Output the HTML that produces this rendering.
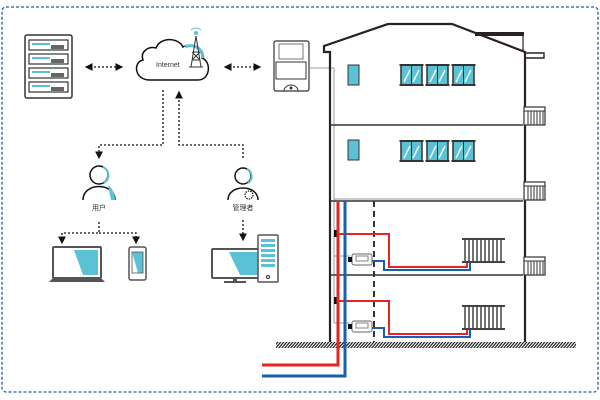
<!DOCTYPE html>
<html><head><meta charset="utf-8"><style>html,body{margin:0;padding:0;background:#fff}svg{display:block}text{font-family:"Liberation Sans","Noto Sans CJK SC",sans-serif}</style></head><body>
<svg width="600" height="400" viewBox="0 0 600 400" xmlns="http://www.w3.org/2000/svg">
<defs>
<pattern id="hatch" width="3" height="6" patternUnits="userSpaceOnUse" patternTransform="skewX(-40)"><rect width="3" height="6" fill="#fff"/><rect width="1.6" height="6" fill="#222"/></pattern>
<marker id="ar" markerWidth="6" markerHeight="6" refX="5" refY="3" orient="auto-start-reverse"><path d="M0,0 L6,3 L0,6z" fill="#111"/></marker>
<g id="win"><rect x="0" y="0" width="21" height="20" fill="#5bc2d6" stroke="#333" stroke-width="1.5"/><line x1="10.5" y1="0" x2="10.5" y2="20" stroke="#333"/><line x1="3" y1="17" x2="9" y2="5" stroke="#fff" stroke-width="1.5"/><line x1="12" y1="17" x2="18" y2="5" stroke="#fff" stroke-width="1.5"/><rect x="-1.5" y="-1" width="24" height="2" fill="#333"/><rect x="-1.5" y="19" width="24" height="2" fill="#333"/></g>
<g id="bal"><rect x="0" y="0" width="21" height="18" fill="#fff" stroke="#333" stroke-width="1.2"/><path d="M4,4V18M7,4V18M10,4V18M13,4V18M16,4V18M19,4V18M0,4H21" stroke="#333" stroke-width="1"/></g>
<g id="rad"><rect x="0" y="0" width="43" height="27" fill="#fff"/><path d="M0,2H43M0,25H43" stroke="#444" stroke-width="2"/><path d="M3,2V25M7,2V25M11,2V25M15,2V25M19,2V25M23,2V25M27,2V25M31,2V25M35,2V25M39,2V25" stroke="#444" stroke-width="1.5"/></g>
<g id="mtr"><rect x="0" y="0" width="20" height="11" rx="2" fill="#fff" stroke="#666"/><rect x="4" y="2" width="12" height="5" fill="none" stroke="#666" stroke-width=".8"/><rect x="-4" y="3" width="4" height="5" fill="#111"/></g>
</defs>
<rect x="2" y="7" width="596" height="385" rx="4" fill="none" stroke="#1f5fae" stroke-width="1.3" stroke-dasharray="3,2"/>
<!-- server rack -->
<rect x="25" y="35" width="47" height="63" rx="2" fill="#fff" stroke="#333" stroke-width="1.5"/>
<g fill="#fff" stroke="#333" stroke-width="1.2">
<rect x="29" y="40" width="39" height="10"/><rect x="29" y="54" width="39" height="10"/><rect x="29" y="68" width="39" height="10"/><rect x="29" y="82" width="39" height="10"/></g>
<g fill="#5bc2d6"><rect x="32" y="43" width="18" height="2"/><rect x="32" y="57" width="18" height="2"/><rect x="32" y="71" width="18" height="2"/><rect x="32" y="85" width="18" height="2"/></g>
<g fill="#666"><rect x="51" y="45" width="13" height="4"/><rect x="51" y="59" width="13" height="4"/><rect x="51" y="73" width="13" height="4"/><rect x="51" y="87" width="13" height="4"/></g>
<!-- arrows -->
<g stroke="#111" stroke-width="1.3" stroke-dasharray="2,2" fill="none">
<line x1="86" y1="67" x2="122" y2="67" marker-end="url(#ar)" marker-start="url(#ar)"/>
<line x1="225" y1="67" x2="260" y2="67" marker-end="url(#ar)" marker-start="url(#ar)"/>
<polyline points="163,90 163,145 99,145 99,158" marker-end="url(#ar)"/>
<polyline points="243,158 243,145 179,145 179,92" marker-end="url(#ar)"/>
<polyline points="99,222 99,233 62,233 62,243" marker-end="url(#ar)"/>
<polyline points="99,233 136,233 136,243"  marker-end="url(#ar)"/>
<polyline points="243,220 243,240" marker-end="url(#ar)"/>
</g>
<!-- cloud -->
<path d="M150,80 H198 C210,80 212,62 202,58 C203,48 190,42 183,47 C178,37 160,37 156,48 C148,46 140,52 143,60 C133,62 134,80 150,80z" fill="#fff" stroke="#111" stroke-width="1.5"/>
<path d="M185,47 C192,43 203,48 203,58" fill="none" stroke="#5bc2d6" stroke-width="3"/>
<text x="156" y="67" font-size="7" fill="#333">Internet</text>
<g stroke="#333" stroke-width="1" fill="none"><path d="M196,36 L191,67 M196,36 L201,67 M193,52 L199,52 M192,60 L200,60 M192,52 L200,60 M200,52 L192,60 M189,67 H203"/></g>
<circle cx="196" cy="33" r="2" fill="#5bc2d6"/><path d="M191,30 Q196,26 201,30" stroke="#5bc2d6" fill="none"/>
<!-- meter -->
<rect x="274" y="41" width="35" height="50" rx="2" fill="#fff" stroke="#333" stroke-width="1.2"/>
<rect x="279" y="44" width="24" height="15" fill="#fff" stroke="#555" stroke-width=".8"/>
<rect x="276" y="62" width="30" height="17" fill="#fff" stroke="#333" stroke-width="1"/>
<path d="M284,91 A7,6 0 0 1 298,91" fill="none" stroke="#333"/><circle cx="291" cy="88" r="1.5" fill="#333"/>
<polyline points="309,68 334,68 334,323" fill="none" stroke="#999" stroke-width="1"/>
<!-- building -->
<path d="M330,342 V52 H324 V46 L388,24 H452 L525,52 V342" fill="none" stroke="#2a2222" stroke-width="2.2"/>
<rect x="475" y="32" width="49" height="4" fill="#2a2222"/>
<line x1="523" y1="33" x2="523" y2="52" stroke="#2a2222" stroke-width="1.2"/>
<path d="M525,53 H544 V58 H525" fill="none" stroke="#2a2222" stroke-width="1.4"/>
<line x1="330" y1="125" x2="523" y2="125" stroke="#333" stroke-width="1.5"/>
<line x1="334" y1="199" x2="523" y2="199" stroke="#999" stroke-width="1"/>
<line x1="330" y1="201" x2="523" y2="201" stroke="#333" stroke-width="1.5"/>
<line x1="330" y1="275" x2="523" y2="275" stroke="#333" stroke-width="1.5"/>
<rect x="348" y="65" width="11" height="20" fill="#5bc2d6" stroke="#333"/>
<rect x="348" y="140" width="11" height="20" fill="#5bc2d6" stroke="#333"/>
<use href="#win" x="401" y="65"/><use href="#win" x="427" y="65"/><use href="#win" x="453" y="65"/>
<use href="#win" x="401" y="141"/><use href="#win" x="427" y="141"/><use href="#win" x="453" y="141"/>
<use href="#bal" x="524" y="107"/><use href="#bal" x="524" y="182"/><use href="#bal" x="524" y="257"/>
<line x1="374" y1="201" x2="374" y2="342" stroke="#333" stroke-width="2" stroke-dasharray="6,4"/>
<rect x="276" y="342" width="300" height="6" fill="url(#hatch)"/>
<!-- pipes -->
<use href="#rad" x="462" y="237"/><use href="#rad" x="462" y="304"/>
<g fill="none" stroke-width="2">
<polyline points="337,234 389,234 389,267 467,267 467,263" stroke="#e52521"/>
<polyline points="372,261 384,261 384,270 470,270 470,263" stroke="#1a5fae"/>
<polyline points="337,301 389,301 389,334 467,334 467,330" stroke="#e52521"/>
<polyline points="372,328 384,328 384,337 470,337 470,330" stroke="#1a5fae"/>
</g>
<g fill="none" stroke="#999"><polyline points="334,256 350,256"/><polyline points="334,323 350,323"/></g>
<use href="#mtr" x="352" y="254"/><use href="#mtr" x="352" y="321"/>
<rect x="334" y="230" width="5" height="7" fill="#111"/><rect x="334" y="297" width="5" height="7" fill="#111"/>
<polyline points="338,201 338,365 262,365" fill="none" stroke="#e52521" stroke-width="3"/>
<polyline points="345,201 345,376 262,376" fill="none" stroke="#1a5fae" stroke-width="3"/>
<!-- persons -->
<g fill="#fff" stroke="#111" stroke-width="1.5">
<circle cx="99" cy="175" r="9"/><path d="M83,200 C83,182 115,182 115,200"/>
<circle cx="243" cy="176" r="8"/><path d="M228,200 C228,184 258,184 258,200"/></g>
<path d="M103,167 A9,9 0 0 1 104,183" fill="none" stroke="#5bc2d6" stroke-width="2"/>
<path d="M108,185 C113,189 115,194 115,200 H111z" fill="#5bc2d6"/>
<path d="M247,169 A8,8 0 0 1 248,183" fill="none" stroke="#5bc2d6" stroke-width="2"/>
<circle cx="249" cy="195" r="4" fill="#fff" stroke="#111" stroke-width="1.2" stroke-dasharray="1.5,1"/>
<text x="99" y="210" font-size="7" text-anchor="middle" fill="#333">用户</text>
<text x="243" y="210" font-size="7" text-anchor="middle" fill="#333">管理者</text>
<!-- laptop -->
<rect x="53" y="247" width="48" height="31" rx="1" fill="#fff" stroke="#555" stroke-width="2"/>
<polygon points="74,250 98,250 98,275 83,275" fill="#5bc2d6"/>
<path d="M49,282 L53,278 H101 L105,282z" fill="#555"/>
<rect x="129" y="247" width="17" height="33" rx="2" fill="#fff" stroke="#555" stroke-width="1.5"/>
<polygon points="132,252 143,252 143,273 138,273" fill="#5bc2d6"/>
<rect x="132" y="252" width="11" height="21" fill="none" stroke="#555" stroke-width=".8"/>
<!-- desktop -->
<rect x="212" y="249" width="56" height="29" rx="1" fill="#fff" stroke="#555" stroke-width="2"/>
<polygon points="229,252 265,252 265,275 240,275" fill="#5bc2d6"/>
<rect x="233" y="278" width="4" height="4" fill="#555"/><rect x="224" y="281" width="22" height="2" fill="#555"/>
<rect x="258" y="235" width="20" height="47" rx="1" fill="#fff" stroke="#555" stroke-width="1.5"/>
<g fill="#5bc2d6"><rect x="261" y="239" width="14" height="3"/><rect x="261" y="244" width="14" height="3"/><rect x="261" y="249" width="14" height="3"/><rect x="261" y="254" width="14" height="3"/><rect x="261" y="259" width="14" height="3"/><rect x="261" y="264" width="14" height="3"/></g>
<circle cx="268" cy="277" r="1.5" fill="none" stroke="#333"/>
</svg>
</body></html>
